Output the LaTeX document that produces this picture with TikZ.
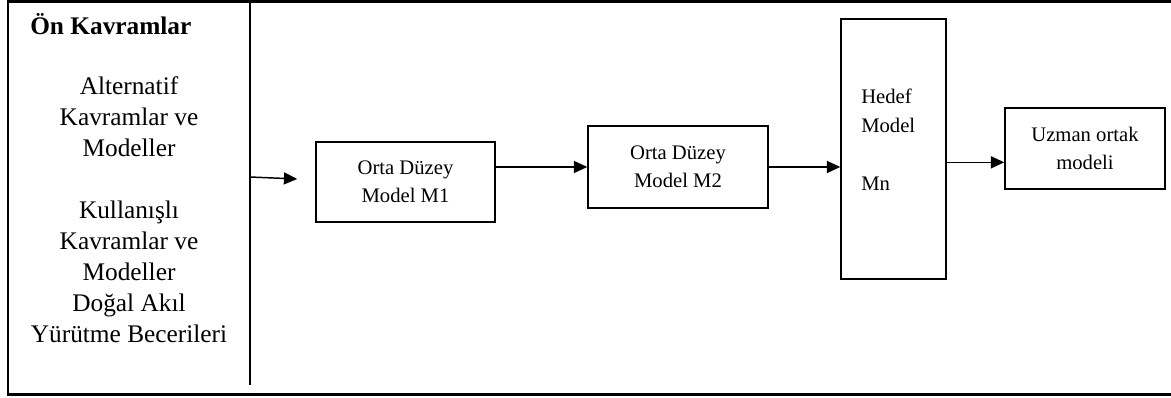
\documentclass[tikz,border=0pt]{standalone}
\usepackage{fontspec}
\setmainfont{Liberation Serif}
\usetikzlibrary{arrows.meta}
\tikzset{
  modelbox/.style={draw, line width=1.1pt, align=center, inner sep=0pt,
                   font=\fontsize{15.5}{21}\selectfont},
  arr/.style={-{Triangle[length=10pt,width=9pt]}, line width=1.1pt},
}

\begin{document}
\begin{tikzpicture}[x=0.75pt,y=-0.75pt]
    \useasboundingbox (0,0) rectangle (1171,398);

    \draw[line width=1.8pt] (1171,1.5) -- (8,1.5) -- (8,394.5) -- (1171,394.5);
    \draw[line width=1.1pt] (250,1.5) -- (250,385);

    \node[font=\fontsize{19}{23}\selectfont\bfseries, anchor=base west, inner sep=0pt] (onbaslik) at (30,35) {Ön Kavramlar};
    % base of a multi-line node = last line
    \node[font=\fontsize{19}{23.25}\selectfont, align=center, anchor=base, inner sep=0pt] (onliste) at (129,343)
        {Alternatif\\Kavramlar ve\\Modeller\\[23.25pt]Kullanışlı\\Kavramlar ve\\Modeller\\Doğal Akıl\\Yürütme Becerileri};

    \node[modelbox, minimum width=134.25pt, minimum height=60pt] (m1) at (405.5,182) {Orta Düzey\\Model M1};
    \node[modelbox, minimum width=135pt, minimum height=61.5pt] (m2) at (678,167) {Orta Düzey\\Model M2};
    \node[modelbox, minimum width=78.75pt, minimum height=195pt] (hedef) at (893.5,149) {};
    \node[font=\fontsize{15.5}{21.75}\selectfont, align=left, anchor=base west, inner sep=0pt] (hedefyazi) at (861,191)
        {Hedef\\Model\\[21.75pt]Mn};
    \node[modelbox, minimum width=120pt, minimum height=60.75pt] (uzman) at (1085,148.5) {Uzman ortak\\modeli};

    \coordinate (oncikis) at (250,177);
    \draw[arr] (oncikis) -- ([xshift=-13.5pt,yshift=2.25pt]m1.west);
    \draw[arr] (m1.east |- m2.west) -- (m2.west);
    \draw[arr] (m2.east) -- (m2.east -| hedef.west);
    \draw[arr] ([yshift=-10pt]hedef.east) -- ([yshift=-10pt]hedef.east -| uzman.west);
\end{tikzpicture}
\end{document}
